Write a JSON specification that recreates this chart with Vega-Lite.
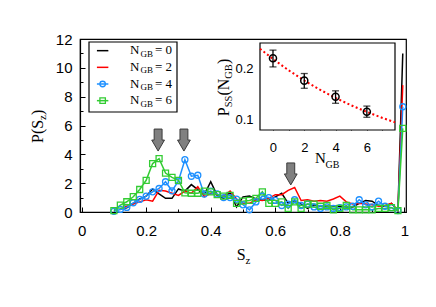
{
  "$schema": "https://vega.github.io/schema/vega-lite/v6.json",
  "width": 326,
  "height": 173,
  "autosize": "none",
  "padding": {"left": 80, "top": 39, "right": 30, "bottom": 95},
  "background": "white",
  "config": {
    "view": {"stroke": "#000", "strokeWidth": 1.2},
    "axis": {"grid": false, "domainColor": "#000", "domainWidth": 1.2, "tickColor": "#000", "tickWidth": 1, "labelColor": "#000", "labelFont": "Liberation Sans", "labelFlush": false, "labelOverlap": false}
  },
  "datasets": {
    "main": [
      {"s":"0","x":0.12,"y":0.2},{"s":"0","x":0.14,"y":0.3},{"s":"0","x":0.16,"y":0.6},{"s":"0","x":0.18,"y":0.9},{"s":"0","x":0.20,"y":1.1},{"s":"0","x":0.22,"y":1.6},{"s":"0","x":0.24,"y":1.25},{"s":"0","x":0.26,"y":0.95},{"s":"0","x":0.28,"y":0.95},{"s":"0","x":0.30,"y":1.6},{"s":"0","x":0.32,"y":1.45},{"s":"0","x":0.34,"y":1.9},{"s":"0","x":0.36,"y":1.55},{"s":"0","x":0.38,"y":1.2},{"s":"0","x":0.40,"y":2.1},{"s":"0","x":0.42,"y":1.15},{"s":"0","x":0.44,"y":0.95},{"s":"0","x":0.46,"y":1.35},{"s":"0","x":0.48,"y":0.35},{"s":"0","x":0.50,"y":1.05},{"s":"0","x":0.52,"y":1.1},{"s":"0","x":0.54,"y":0.9},{"s":"0","x":0.56,"y":0.85},{"s":"0","x":0.58,"y":0.8},{"s":"0","x":0.60,"y":1.05},{"s":"0","x":0.62,"y":1.3},{"s":"0","x":0.64,"y":0.6},{"s":"0","x":0.66,"y":0.8},{"s":"0","x":0.68,"y":0.55},{"s":"0","x":0.70,"y":0.25},{"s":"0","x":0.72,"y":0.5},{"s":"0","x":0.74,"y":0.4},{"s":"0","x":0.76,"y":0.4},{"s":"0","x":0.78,"y":0.4},{"s":"0","x":0.80,"y":0.4},{"s":"0","x":0.82,"y":0.35},{"s":"0","x":0.84,"y":0.35},{"s":"0","x":0.86,"y":0.6},{"s":"0","x":0.88,"y":0.8},{"s":"0","x":0.90,"y":0.75},{"s":"0","x":0.92,"y":0.45},{"s":"0","x":0.94,"y":0.4},{"s":"0","x":0.96,"y":0.6},{"s":"0","x":0.98,"y":0.1},{"s":"0","x":0.995,"y":11.0},
      {"s":"2","x":0.12,"y":0.2},{"s":"2","x":0.14,"y":0.4},{"s":"2","x":0.16,"y":0.55},{"s":"2","x":0.18,"y":0.7},{"s":"2","x":0.20,"y":0.85},{"s":"2","x":0.22,"y":0.75},{"s":"2","x":0.24,"y":1.5},{"s":"2","x":0.26,"y":1.45},{"s":"2","x":0.28,"y":1.3},{"s":"2","x":0.30,"y":1.15},{"s":"2","x":0.32,"y":1.45},{"s":"2","x":0.34,"y":1.3},{"s":"2","x":0.36,"y":1.75},{"s":"2","x":0.38,"y":1.05},{"s":"2","x":0.40,"y":1.3},{"s":"2","x":0.42,"y":1.2},{"s":"2","x":0.44,"y":1.1},{"s":"2","x":0.46,"y":1.45},{"s":"2","x":0.48,"y":0.9},{"s":"2","x":0.50,"y":0.6},{"s":"2","x":0.52,"y":0.6},{"s":"2","x":0.54,"y":0.85},{"s":"2","x":0.56,"y":0.8},{"s":"2","x":0.58,"y":0.95},{"s":"2","x":0.60,"y":1.2},{"s":"2","x":0.62,"y":1.2},{"s":"2","x":0.64,"y":1.5},{"s":"2","x":0.66,"y":1.7},{"s":"2","x":0.68,"y":0.8},{"s":"2","x":0.70,"y":0.85},{"s":"2","x":0.72,"y":0.75},{"s":"2","x":0.74,"y":0.8},{"s":"2","x":0.76,"y":0.75},{"s":"2","x":0.78,"y":0.9},{"s":"2","x":0.80,"y":1.1},{"s":"2","x":0.82,"y":0.7},{"s":"2","x":0.84,"y":0.55},{"s":"2","x":0.86,"y":0.6},{"s":"2","x":0.88,"y":0.55},{"s":"2","x":0.90,"y":0.5},{"s":"2","x":0.92,"y":0.4},{"s":"2","x":0.94,"y":0.45},{"s":"2","x":0.96,"y":0.6},{"s":"2","x":0.98,"y":0.1},{"s":"2","x":0.995,"y":8.8},
      {"s":"4","x":0.10,"y":0.05},{"s":"4","x":0.12,"y":0.18},{"s":"4","x":0.14,"y":0.32},{"s":"4","x":0.16,"y":0.64},{"s":"4","x":0.18,"y":0.87},{"s":"4","x":0.20,"y":1.1},{"s":"4","x":0.22,"y":1.4},{"s":"4","x":0.24,"y":1.63},{"s":"4","x":0.26,"y":2.1},{"s":"4","x":0.28,"y":1.47},{"s":"4","x":0.30,"y":2.16},{"s":"4","x":0.32,"y":3.63},{"s":"4","x":0.34,"y":2.48},{"s":"4","x":0.36,"y":2.55},{"s":"4","x":0.38,"y":1.24},{"s":"4","x":0.40,"y":1.45},{"s":"4","x":0.42,"y":1.25},{"s":"4","x":0.44,"y":1.0},{"s":"4","x":0.46,"y":1.0},{"s":"4","x":0.48,"y":0.9},{"s":"4","x":0.50,"y":0.5},{"s":"4","x":0.52,"y":0.15},{"s":"4","x":0.54,"y":0.7},{"s":"4","x":0.56,"y":1.1},{"s":"4","x":0.58,"y":1.0},{"s":"4","x":0.60,"y":0.8},{"s":"4","x":0.62,"y":0.45},{"s":"4","x":0.64,"y":0.55},{"s":"4","x":0.66,"y":0.85},{"s":"4","x":0.68,"y":0.45},{"s":"4","x":0.70,"y":0.55},{"s":"4","x":0.72,"y":0.35},{"s":"4","x":0.74,"y":0.25},{"s":"4","x":0.76,"y":0.35},{"s":"4","x":0.78,"y":0.25},{"s":"4","x":0.80,"y":0.3},{"s":"4","x":0.82,"y":0.35},{"s":"4","x":0.84,"y":0.4},{"s":"4","x":0.86,"y":0.85},{"s":"4","x":0.88,"y":0.5},{"s":"4","x":0.90,"y":0.35},{"s":"4","x":0.92,"y":0.75},{"s":"4","x":0.94,"y":0.4},{"s":"4","x":0.96,"y":0.3},{"s":"4","x":0.98,"y":0.1},{"s":"4","x":0.995,"y":7.3},
      {"s":"6","x":0.10,"y":0.1},{"s":"6","x":0.12,"y":0.48},{"s":"6","x":0.14,"y":0.71},{"s":"6","x":0.16,"y":1.06},{"s":"6","x":0.18,"y":1.56},{"s":"6","x":0.20,"y":2.2},{"s":"6","x":0.22,"y":3.36},{"s":"6","x":0.24,"y":3.7},{"s":"6","x":0.26,"y":2.7},{"s":"6","x":0.28,"y":2.4},{"s":"6","x":0.30,"y":2.2},{"s":"6","x":0.32,"y":1.33},{"s":"6","x":0.34,"y":1.3},{"s":"6","x":0.36,"y":1.3},{"s":"6","x":0.38,"y":1.45},{"s":"6","x":0.40,"y":1.4},{"s":"6","x":0.42,"y":1.2},{"s":"6","x":0.44,"y":1.1},{"s":"6","x":0.46,"y":1.15},{"s":"6","x":0.48,"y":0.6},{"s":"6","x":0.50,"y":0.75},{"s":"6","x":0.52,"y":0.8},{"s":"6","x":0.54,"y":0.95},{"s":"6","x":0.56,"y":1.4},{"s":"6","x":0.58,"y":0.6},{"s":"6","x":0.60,"y":0.6},{"s":"6","x":0.62,"y":0.7},{"s":"6","x":0.64,"y":0.25},{"s":"6","x":0.66,"y":0.7},{"s":"6","x":0.68,"y":0.25},{"s":"6","x":0.70,"y":0.55},{"s":"6","x":0.72,"y":0.55},{"s":"6","x":0.74,"y":0.4},{"s":"6","x":0.76,"y":0.45},{"s":"6","x":0.78,"y":0.15},{"s":"6","x":0.80,"y":0.25},{"s":"6","x":0.82,"y":0.45},{"s":"6","x":0.84,"y":0.15},{"s":"6","x":0.86,"y":0.15},{"s":"6","x":0.88,"y":0.15},{"s":"6","x":0.90,"y":0.15},{"s":"6","x":0.92,"y":0.25},{"s":"6","x":0.94,"y":0.25},{"s":"6","x":0.96,"y":0.3},{"s":"6","x":0.98,"y":0.1},{"s":"6","x":0.995,"y":5.8}
    ],
    "arrows": [{"x":0.237,"y":4.99},{"x":0.317,"y":4.99},{"x":0.648,"y":2.64}],
    "legend": [{"n":0,"s":"0","lab":"= 0"},{"n":2,"s":"2","lab":"= 2"},{"n":4,"s":"4","lab":"= 4"},{"n":6,"s":"6","lab":"= 6"}],
    "inset": [{"n":0,"p":0.221,"lo":0.204,"hi":0.237},{"n":2,"p":0.177,"lo":0.162,"hi":0.191},{"n":4,"p":0.1455,"lo":0.1325,"hi":0.157},{"n":6,"p":0.116,"lo":0.105,"hi":0.127}],
    "fit": [{"n":-0.83,"p":0.2396},{"n":0,"p":0.2196},{"n":1,"p":0.1973},{"n":2,"p":0.1773},{"n":3,"p":0.1592},{"n":4,"p":0.1431},{"n":5,"p":0.1285},{"n":6,"p":0.1155},{"n":7,"p":0.1037},{"n":7.8,"p":0.0952}]
  },
  "layer": [
    {
      "data": {"name": "main"},
      "resolve": {"axis": {"x": "independent", "y": "independent"}},
      "layer": [
        {
          "mark": {"type": "line", "strokeWidth": 1.5},
          "encoding": {
            "x": {"field": "x", "type": "quantitative", "scale": {"domain": [-0.005, 1.005], "nice": false, "zero": false},
              "axis": {"title": null, "orient": "bottom", "values": [0,0.2,0.4,0.6,0.8,1], "format": "~g", "tickSize": -5, "labelFontSize": 15, "labelPadding": 16}},
            "y": {"field": "y", "type": "quantitative", "scale": {"domain": [0, 12], "nice": false},
              "axis": {"title": null, "orient": "left", "values": [0,2,4,6,8,10,12], "tickSize": -5, "labelFontSize": 15, "labelPadding": 13}},
            "color": {"field": "s", "type": "nominal", "scale": {"domain": ["0","2","4","6"], "range": ["#000000","#ff0000","#1e90ff","#33cc33"]}, "legend": null}
          }
        },
        {
          "transform": [{"filter": "datum.s=='4' || datum.s=='6'"}],
          "mark": {"type": "point", "filled": false, "size": 36, "strokeWidth": 1.3, "opacity": 1},
          "encoding": {
            "x": {"field": "x", "type": "quantitative", "axis": {"title": null, "orient": "bottom", "values": [0.1,0.3,0.5,0.7,0.9], "labels": false, "domain": false, "tickSize": -3}},
            "y": {"field": "y", "type": "quantitative", "axis": {"title": null, "orient": "left", "values": [1,3,5,7,9,11], "labels": false, "domain": false, "tickSize": -3}},
            "color": {"field": "s", "type": "nominal", "legend": null},
            "shape": {"field": "s", "type": "nominal", "scale": {"domain": ["4","6"], "range": ["circle","square"]}, "legend": null}
          }
        },
        {
          "data": {"name": "arrows"},
          "mark": {"type": "point", "shape": "M -0.36 -1 L 0.36 -1 L 0.36 0 L 0.58 0 L 0 1 L -0.58 0 L -0.36 0 Z", "size": 484, "filled": true, "fill": "#808080", "stroke": "#3a3a3a", "strokeWidth": 1, "opacity": 1},
          "encoding": {"x": {"field": "x", "type": "quantitative", "axis": null}, "y": {"field": "y", "type": "quantitative", "axis": null}}
        },
        {
          "data": {"values": [{}]},
          "mark": {"type": "text", "text": "S", "font": "Liberation Serif", "fontSize": 16, "align": "left", "baseline": "alphabetic"},
          "encoding": {"x": {"datum": 0.4805, "type": "quantitative", "axis": null}, "y": {"datum": -3.33, "type": "quantitative", "axis": null}}
        },
        {
          "data": {"values": [{}]},
          "mark": {"type": "text", "text": "z", "font": "Liberation Serif", "fontSize": 11, "align": "left", "baseline": "alphabetic"},
          "encoding": {"x": {"datum": 0.5077, "type": "quantitative", "axis": null}, "y": {"datum": -3.607, "type": "quantitative", "axis": null}}
        },
        {
          "data": {"values": [{}]},
          "mark": {"type": "text", "text": "P(S", "font": "Liberation Serif", "fontSize": 16, "align": "left", "baseline": "alphabetic", "angle": 270},
          "encoding": {"x": {"datum": -0.1196, "type": "quantitative", "axis": null}, "y": {"datum": 4.786, "type": "quantitative", "axis": null}}
        },
        {
          "data": {"values": [{}]},
          "mark": {"type": "text", "text": "z", "font": "Liberation Serif", "fontSize": 11, "align": "left", "baseline": "alphabetic", "angle": 270, "dx": 23.1, "dy": 3},
          "encoding": {"x": {"datum": -0.1196, "type": "quantitative", "axis": null}, "y": {"datum": 4.786, "type": "quantitative", "axis": null}}
        },
        {
          "data": {"values": [{}]},
          "mark": {"type": "text", "text": ")", "font": "Liberation Serif", "fontSize": 16, "align": "left", "baseline": "alphabetic", "angle": 270, "dx": 28},
          "encoding": {"x": {"datum": -0.1196, "type": "quantitative", "axis": null}, "y": {"datum": 4.786, "type": "quantitative", "axis": null}}
        }
      ]
    },
    {
      "data": {"name": "legend"},
      "layer": [
        {
          "data": {"values": [{}]},
          "mark": {"type": "rect", "fill": "white", "stroke": "#000", "strokeWidth": 1.2},
          "encoding": {
            "x": {"datum": 0, "type": "quantitative", "scale": {"domain": [0, 1], "range": [9, 97], "nice": false, "zero": false}, "axis": null},
            "x2": {"datum": 1},
            "y": {"datum": -1.04, "type": "quantitative", "scale": {"domain": [-1.04, 7.36], "range": [3, 73], "nice": false, "zero": false}, "axis": null},
            "y2": {"datum": 7.36}
          }
        },
        {
          "mark": {"type": "rule", "strokeWidth": 1.5},
          "encoding": {
            "x": {"datum": 0.09, "type": "quantitative", "axis": null},
            "x2": {"datum": 0.22},
            "y": {"field": "n", "type": "quantitative", "axis": null},
            "color": {"field": "s", "type": "nominal", "legend": null}
          }
        },
        {
          "transform": [{"filter": "datum.n >= 4"}],
          "mark": {"type": "point", "filled": false, "size": 30, "strokeWidth": 1.3, "opacity": 1},
          "encoding": {
            "x": {"datum": 0.155, "type": "quantitative", "axis": null},
            "y": {"field": "n", "type": "quantitative", "axis": null},
            "color": {"field": "s", "type": "nominal", "legend": null},
            "shape": {"field": "s", "type": "nominal", "legend": null}
          }
        },
        {
          "mark": {"type": "text", "text": "N", "font": "Liberation Serif", "fontSize": 13, "align": "left", "baseline": "alphabetic", "dy": 3.5},
          "encoding": {"x": {"datum": 0.466, "type": "quantitative", "axis": null}, "y": {"field": "n", "type": "quantitative", "axis": null}}
        },
        {
          "mark": {"type": "text", "text": "GB", "font": "Liberation Serif", "fontSize": 9, "align": "left", "baseline": "alphabetic", "dy": 6},
          "encoding": {"x": {"datum": 0.585, "type": "quantitative", "axis": null}, "y": {"field": "n", "type": "quantitative", "axis": null}}
        },
        {
          "mark": {"type": "text", "font": "Liberation Serif", "fontSize": 13, "align": "left", "baseline": "alphabetic", "dy": 3.5},
          "encoding": {"text": {"field": "lab"}, "x": {"datum": 0.75, "type": "quantitative", "axis": null}, "y": {"field": "n", "type": "quantitative", "axis": null}}
        }
      ]
    },
    {
      "resolve": {"axis": {"x": "independent", "y": "independent"}},
      "layer": [
        {
          "data": {"values": [{}]},
          "mark": {"type": "rect", "fill": "white", "stroke": "#000", "strokeWidth": 1.2},
          "encoding": {
            "x": {"datum": -0.83, "type": "quantitative", "scale": {"domain": [-0.83, 7.8], "range": [180, 315], "nice": false, "zero": false},
              "axis": {"title": null, "orient": "bottom", "offset": -82, "domain": false, "values": [0,2,4,6], "tickSize": -5, "labelFontSize": 13, "labelPadding": 16}},
            "x2": {"datum": 7.8},
            "y": {"datum": 0.08, "type": "quantitative", "scale": {"domain": [0.08, 0.251], "range": [91, 4], "nice": false, "zero": false},
              "axis": {"title": null, "orient": "left", "offset": -180, "domain": false, "values": [0.1,0.2], "format": ".1f", "tickSize": -5, "labelFontSize": 13, "labelPadding": 12}},
            "y2": {"datum": 0.251}
          }
        },
        {
          "data": {"name": "fit"},
          "mark": {"type": "line", "color": "#ff0000", "strokeDash": [2, 2.5], "strokeWidth": 2},
          "encoding": {
            "x": {"field": "n", "type": "quantitative", "axis": {"title": null, "orient": "bottom", "offset": -82, "domain": false, "labels": false, "values": [1,3,5,7], "tickSize": -3}},
            "y": {"field": "p", "type": "quantitative", "axis": {"title": null, "orient": "left", "offset": -180, "domain": false, "labels": false, "values": [0.12,0.14,0.16,0.18,0.22,0.24], "tickSize": -3}}
          }
        },
        {
          "data": {"name": "inset"},
          "mark": {"type": "rule", "color": "#000", "strokeWidth": 1.3},
          "encoding": {"x": {"field": "n", "type": "quantitative", "axis": null}, "y": {"field": "lo", "type": "quantitative", "axis": null}, "y2": {"field": "hi"}}
        },
        {
          "data": {"name": "inset"},
          "mark": {"type": "tick", "orient": "horizontal", "color": "#000", "size": 7, "thickness": 1.3},
          "encoding": {"x": {"field": "n", "type": "quantitative", "axis": null}, "y": {"field": "lo", "type": "quantitative", "axis": null}}
        },
        {
          "data": {"name": "inset"},
          "mark": {"type": "tick", "orient": "horizontal", "color": "#000", "size": 7, "thickness": 1.3},
          "encoding": {"x": {"field": "n", "type": "quantitative", "axis": null}, "y": {"field": "hi", "type": "quantitative", "axis": null}}
        },
        {
          "data": {"name": "inset"},
          "mark": {"type": "point", "shape": "circle", "filled": false, "color": "#000", "size": 50, "strokeWidth": 1.5, "opacity": 1},
          "encoding": {"x": {"field": "n", "type": "quantitative", "axis": null}, "y": {"field": "p", "type": "quantitative", "axis": null}}
        },
        {
          "data": {"values": [{}]},
          "mark": {"type": "text", "text": "N", "font": "Liberation Serif", "fontSize": 15, "align": "left", "baseline": "alphabetic"},
          "encoding": {"x": {"datum": 2.686, "type": "quantitative", "axis": null}, "y": {"datum": 0.0151, "type": "quantitative", "axis": null}}
        },
        {
          "data": {"values": [{}]},
          "mark": {"type": "text", "text": "GB", "font": "Liberation Serif", "fontSize": 10, "align": "left", "baseline": "alphabetic"},
          "encoding": {"x": {"datum": 3.357, "type": "quantitative", "axis": null}, "y": {"datum": 0.0053, "type": "quantitative", "axis": null}}
        },
        {
          "data": {"values": [{}]},
          "mark": {"type": "text", "text": "P", "font": "Liberation Serif", "fontSize": 16, "align": "left", "baseline": "alphabetic", "angle": 270},
          "encoding": {"x": {"datum": -2.78, "type": "quantitative", "axis": null}, "y": {"datum": 0.1071, "type": "quantitative", "axis": null}}
        },
        {
          "data": {"values": [{}]},
          "mark": {"type": "text", "text": "SS", "font": "Liberation Serif", "fontSize": 10.5, "align": "left", "baseline": "alphabetic", "angle": 270, "dx": 8.9, "dy": 3},
          "encoding": {"x": {"datum": -2.78, "type": "quantitative", "axis": null}, "y": {"datum": 0.1071, "type": "quantitative", "axis": null}}
        },
        {
          "data": {"values": [{}]},
          "mark": {"type": "text", "text": "(N", "font": "Liberation Serif", "fontSize": 16, "align": "left", "baseline": "alphabetic", "angle": 270, "dx": 20.6},
          "encoding": {"x": {"datum": -2.78, "type": "quantitative", "axis": null}, "y": {"datum": 0.1071, "type": "quantitative", "axis": null}}
        },
        {
          "data": {"values": [{}]},
          "mark": {"type": "text", "text": "GB", "font": "Liberation Serif", "fontSize": 10.5, "align": "left", "baseline": "alphabetic", "angle": 270, "dx": 37.5, "dy": 3},
          "encoding": {"x": {"datum": -2.78, "type": "quantitative", "axis": null}, "y": {"datum": 0.1071, "type": "quantitative", "axis": null}}
        },
        {
          "data": {"values": [{}]},
          "mark": {"type": "text", "text": ")", "font": "Liberation Serif", "fontSize": 16, "align": "left", "baseline": "alphabetic", "angle": 270, "dx": 52.1},
          "encoding": {"x": {"datum": -2.78, "type": "quantitative", "axis": null}, "y": {"datum": 0.1071, "type": "quantitative", "axis": null}}
        }
      ]
    }
  ],
  "resolve": {"scale": {"x": "independent", "y": "independent"}, "axis": {"x": "independent", "y": "independent"}}
}
